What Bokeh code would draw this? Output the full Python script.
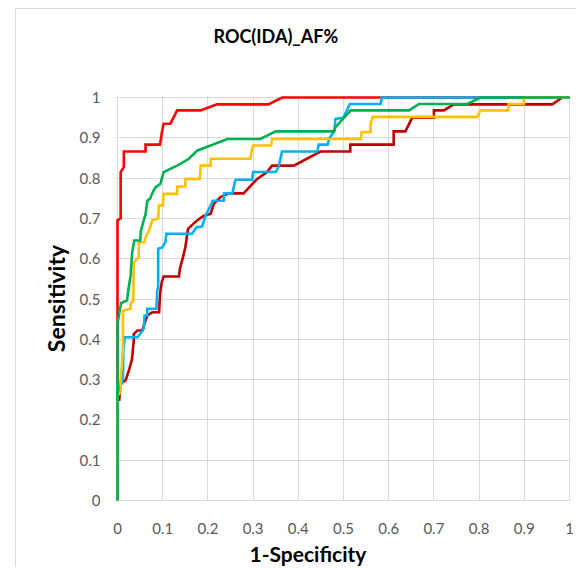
from bokeh.plotting import figure
from bokeh.models import Range1d, FixedTicker, Title, InlineStyleSheet
from bokeh.embed import file_html
from bokeh.resources import INLINE

# ---- data ----
tick_values = [0, 0.1, 0.2, 0.3, 0.4, 0.5, 0.6, 0.7, 0.8, 0.9, 1]
tick_labels = ["0", "0.1", "0.2", "0.3", "0.4", "0.5", "0.6", "0.7", "0.8", "0.9", "1"]

red_x = [0, 0, 0.007, 0.007, 0.014, 0.014, 0.062, 0.062, 0.094, 0.099, 0.102, 0.117,
         0.132, 0.184, 0.22, 0.334, 0.364, 1.0]
red_y = [0, 0.695, 0.70, 0.815, 0.827, 0.866, 0.866, 0.883, 0.883, 0.918, 0.935, 0.935,
         0.968, 0.968, 0.983, 0.983, 1.0, 1.0]

darkred_x = [0, 0, 0.004, 0.006, 0.018, 0.025, 0.032, 0.036, 0.036, 0.044, 0.055, 0.060,
             0.066, 0.077, 0.092, 0.093, 0.095, 0.098, 0.102, 0.136, 0.138, 0.145, 0.150,
             0.156, 0.176, 0.191, 0.206, 0.213, 0.228, 0.246, 0.279, 0.309, 0.331, 0.342,
             0.39, 0.449, 0.515, 0.515, 0.611, 0.611, 0.637, 0.652, 0.70, 0.70, 0.722,
             0.744, 0.962, 0.984, 1.0]
darkred_y = [0, 0.25, 0.25, 0.29, 0.298, 0.322, 0.35, 0.397, 0.413, 0.422, 0.422, 0.44,
             0.459, 0.467, 0.467, 0.489, 0.521, 0.542, 0.556, 0.556, 0.575, 0.604, 0.628,
             0.674, 0.695, 0.707, 0.711, 0.736, 0.753, 0.762, 0.762, 0.798, 0.815, 0.831,
             0.831, 0.866, 0.866, 0.883, 0.883, 0.916, 0.916, 0.950, 0.950, 0.968, 0.968,
             0.983, 0.983, 1.0, 1.0]

blue_x = [0, 0, 0.010, 0.012, 0.013, 0.016, 0.044, 0.048, 0.058, 0.060, 0.066, 0.066,
          0.086, 0.088, 0.090, 0.090, 0.099, 0.106, 0.108, 0.165, 0.175, 0.187, 0.195,
          0.211, 0.235, 0.236, 0.254, 0.261, 0.298, 0.300, 0.350, 0.357, 0.364, 0.442,
          0.445, 0.465, 0.468, 0.480, 0.482, 0.500, 0.514, 0.582, 0.585, 1.0]
blue_y = [0, 0.29, 0.29, 0.30, 0.372, 0.405, 0.405, 0.41, 0.426, 0.459, 0.459, 0.476,
          0.476, 0.521, 0.53, 0.625, 0.628, 0.641, 0.662, 0.662, 0.678, 0.68, 0.707,
          0.744, 0.744, 0.762, 0.762, 0.796, 0.796, 0.815, 0.815, 0.83, 0.866, 0.866,
          0.883, 0.883, 0.897, 0.918, 0.947, 0.95, 0.984, 0.984, 1.0, 1.0]

yellow_x = [0, 0, 0.007, 0.007, 0.012, 0.012, 0.029, 0.029, 0.035, 0.036, 0.047, 0.047,
            0.060, 0.062, 0.070, 0.077, 0.090, 0.0915, 0.100, 0.102, 0.132, 0.132, 0.150,
            0.150, 0.182, 0.184, 0.206, 0.206, 0.294, 0.296, 0.300, 0.340, 0.342, 0.538,
            0.540, 0.560, 0.560, 0.565, 0.796, 0.803, 0.865, 0.865, 0.899, 0.899, 1.0]
yellow_y = [0, 0.26, 0.27, 0.30, 0.37, 0.471, 0.476, 0.489, 0.496, 0.59, 0.604, 0.641,
            0.641, 0.653, 0.67, 0.695, 0.70, 0.732, 0.732, 0.761, 0.761, 0.779, 0.779,
            0.798, 0.798, 0.831, 0.831, 0.848, 0.848, 0.864, 0.881, 0.881, 0.897, 0.897,
            0.914, 0.914, 0.935, 0.952, 0.952, 0.968, 0.968, 0.984, 0.984, 1.0, 1.0]

green_x = [0, 0, 0.008, 0.021, 0.025, 0.029, 0.0325, 0.037, 0.050, 0.052, 0.058, 0.062,
           0.066, 0.072, 0.078, 0.084, 0.095, 0.102, 0.132, 0.158, 0.176, 0.243, 0.316,
           0.350, 0.479, 0.482, 0.516, 0.645, 0.667, 0.774, 0.803, 1.0]
green_y = [0, 0.44, 0.49, 0.496, 0.53, 0.558, 0.616, 0.645, 0.645, 0.67, 0.695, 0.71,
           0.744, 0.749, 0.765, 0.777, 0.786, 0.815, 0.831, 0.848, 0.868, 0.897, 0.897,
           0.916, 0.916, 0.926, 0.968, 0.968, 0.984, 0.984, 1.0, 1.0]

title_text = "ROC(IDA)_AF%"
x_title = "1-Specificity"
y_title = "Sensitivity"

# ---- figure ----
p = figure(width=577, height=568, output_backend="svg", toolbar_location=None,
           x_range=Range1d(-0.00442, 1.00442), y_range=Range1d(-0.0025, 1.005),
           min_border_left=115, min_border_right=6, min_border_top=95, min_border_bottom=67)
p.outline_line_color = None
p.background_fill_color = "white"
p.border_fill_color = "white"

# light grey chart-area border (left and top edges visible in the reference)
p.stylesheets = [InlineStyleSheet(css="""
:host { position: relative; }
:host::after {
  content: ""; position: absolute; left: 15px; top: 8px;
  width: 560px; height: 558px;
  border-left: 1px solid #d9d9d9; border-top: 1px solid #d9d9d9;
  pointer-events: none; z-index: 10;
}
""")]

p.title.text = title_text
p.title.align = "left"
p.title.vertical_align = "bottom"
p.title.offset = 98
p.title.standoff = 0
p.title.text_font = "Lato"
p.title.text_font_style = "bold"
p.title.text_font_size = "18px"
p.title.text_color = "black"

# invisible spacer between the plot area and the title
p.add_layout(Title(text=" ", standoff=25, text_font="Lato", text_font_size="18px",
                   text_color="white"), "above")

for ax in (p.xaxis[0], p.yaxis[0]):
    ax.ticker = FixedTicker(ticks=tick_values)
    ax.major_label_overrides = {v: s for v, s in zip(tick_values, tick_labels)}
    ax.axis_line_color = None
    ax.major_tick_line_color = None
    ax.minor_tick_line_color = None
    ax.major_tick_out = 0
    ax.major_label_text_font = "Lato"
    ax.major_label_text_font_size = "15px"
    ax.major_label_text_color = "#595959"
p.xaxis.major_label_standoff = 21
p.yaxis.major_label_standoff = 15

p.yaxis.axis_label = y_title
p.yaxis.axis_label_standoff = 7
p.yaxis.axis_label_text_font = "Lato"
p.yaxis.axis_label_text_font_style = "bold"
p.yaxis.axis_label_text_font_size = "23px"
p.yaxis.axis_label_text_color = "black"

p.add_layout(Title(text=x_title, align="left", offset=134, standoff=5,
                   text_font="Lato", text_font_style="bold", text_font_size="21px",
                   text_color="black"), "below")

for g in (p.xgrid[0], p.ygrid[0]):
    g.ticker = FixedTicker(ticks=tick_values)
    g.grid_line_color = "#d9d9d9"
    g.grid_line_width = 1

series = [
    (red_x, red_y, "#FF0000"),
    (darkred_x, darkred_y, "#C00000"),
    (blue_x, blue_y, "#00B0F0"),
    (yellow_x, yellow_y, "#FFC000"),
    (green_x, green_y, "#00B050"),
]
for xs, ys, c in series:
    p.line(xs, ys, line_color=c, line_width=2.6, line_join="miter")

open("out.html", "w").write(file_html(p, INLINE))
